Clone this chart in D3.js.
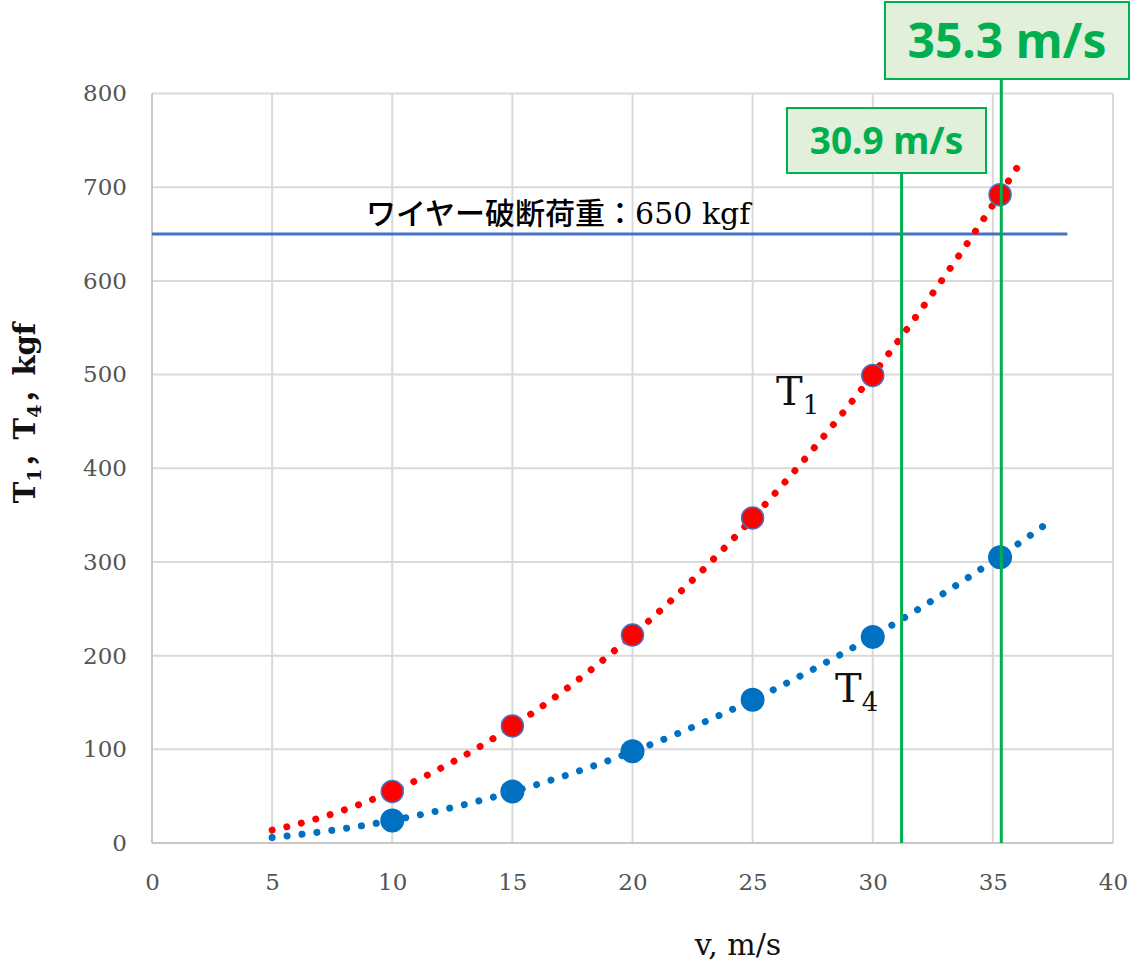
<!DOCTYPE html>
<html><head><meta charset="utf-8">
<script src="https://cdn.jsdelivr.net/npm/d3@7"></script>
<style>body{margin:0;background:#fff}</style>
</head><body>
<svg id="chart" width="1131" height="966"></svg>
<script>
// ---- data ----
const speeds = [10, 15, 20, 25, 30, 35.3];
const t1Values = [55, 125, 222, 347, 499, 692];
const t4Values = [24, 55, 98, 153, 220, 305];
const t1TrendRange = [5, 36.25];
const t4TrendRange = [5, 37.1];
const xTicks = [0, 5, 10, 15, 20, 25, 30, 35, 40];
const yTicks = [0, 100, 200, 300, 400, 500, 600, 700, 800];
const breakLoad = 650;
const breakLoadRange = [0, 38.1];
const breakLabel = "ワイヤー破断荷重：650 kgf";
const markLines = [31.2, 35.35];
const markLabels = ["30.9 m/s", "35.3 m/s"];

// ---- layout ----
const svg = d3.select("#chart");
const x = d3.scaleLinear().domain([0, 40]).range([152, 1113]);
const y = d3.scaleLinear().domain([0, 800]).range([843, 93.5]);
const serif = "'DejaVu Serif', 'Noto Sans CJK JP', serif";

// grid
svg.append("g").selectAll("line.v").data(xTicks).join("line")
  .attr("x1", d => x(d)).attr("x2", d => x(d))
  .attr("y1", y(0)).attr("y2", y(800))
  .attr("stroke", "#d9d9d9").attr("stroke-width", 2);
svg.append("g").selectAll("line.h").data(yTicks).join("line")
  .attr("x1", x(0)).attr("x2", x(40))
  .attr("y1", d => y(d)).attr("y2", d => y(d))
  .attr("stroke", "#d9d9d9").attr("stroke-width", 2);
svg.append("line").attr("x1", x(0)).attr("x2", x(40)).attr("y1", y(0)).attr("y2", y(0))
  .attr("stroke", "#c8c8c8").attr("stroke-width", 2);
svg.append("line").attr("x1", x(0)).attr("x2", x(0)).attr("y1", y(0)).attr("y2", y(800))
  .attr("stroke", "#c8c8c8").attr("stroke-width", 2);

// axes tick labels
const yAxis = d3.axisLeft(y).tickValues(yTicks).tickSize(0).tickPadding(25);
const gy = svg.append("g").attr("transform", `translate(${x(0)},0)`).call(yAxis);
gy.select(".domain").remove();
gy.selectAll("text").attr("font-family", serif).attr("font-size", 23).attr("fill", "#555");
const xAxis = d3.axisBottom(x).tickValues(xTicks).tickSize(0).tickPadding(31);
const gx = svg.append("g").attr("transform", `translate(0,${y(0)})`).call(xAxis);
gx.select(".domain").remove();
gx.selectAll("text").attr("font-family", serif).attr("font-size", 23).attr("fill", "#555");

// axis titles
const yt = svg.append("text").attr("transform", "translate(35,413) rotate(-90)")
  .attr("text-anchor", "middle").attr("font-family", serif).attr("font-weight", "bold")
  .attr("font-size", 29).attr("fill", "#111");
yt.append("tspan").text("T");
yt.append("tspan").attr("font-size", 19).attr("dy", 6).text("1");
yt.append("tspan").attr("dy", -6).text("，T");
yt.append("tspan").attr("font-size", 19).attr("dy", 6).text("4");
yt.append("tspan").attr("dy", -6).text("，kgf");
svg.append("text").attr("x", 738).attr("y", 955).attr("text-anchor", "middle")
  .attr("font-family", serif).attr("font-size", 30).attr("fill", "#111").text("v, m/s");

// break load line
svg.append("line").attr("x1", x(breakLoadRange[0])).attr("x2", x(breakLoadRange[1]))
  .attr("y1", y(breakLoad)).attr("y2", y(breakLoad))
  .attr("stroke", "#4472c4").attr("stroke-width", 3);
svg.append("text").attr("x", 366).attr("y", 224).attr("font-family", serif)
  .attr("font-size", 30).attr("font-weight", 500).attr("fill", "#000").text(breakLabel);

// power trendline fit (log-log least squares) from the data
function powerFit(xs, ys) {
  const lx = xs.map(Math.log), ly = ys.map(Math.log);
  const mx = d3.mean(lx), my = d3.mean(ly);
  const b = d3.sum(lx.map((v, i) => (v - mx) * (ly[i] - my))) / d3.sum(lx.map(v => (v - mx) ** 2));
  const a = Math.exp(my - b * mx);
  return v => a * Math.pow(v, b);
}
const line = d3.line().x(d => x(d[0])).y(d => y(d[1]));
function trend(vals, range, color) {
  const f = powerFit(speeds, vals);
  const pts = d3.range(range[0], range[1] + 0.001, 0.05).map(v => [v, f(v)]);
  svg.append("path").attr("d", line(pts)).attr("fill", "none")
    .attr("stroke", color).attr("stroke-width", 7)
    .attr("stroke-linecap", "round").attr("stroke-dasharray", "0.01 15");
}
trend(t4Values, t4TrendRange, "#0070c0");
trend(t1Values, t1TrendRange, "#ff0000");

// markers
svg.append("g").selectAll("circle").data(speeds).join("circle")
  .attr("cx", d => x(d)).attr("cy", (d, i) => y(t4Values[i])).attr("r", 12)
  .attr("fill", "#0070c0");
svg.append("g").selectAll("circle").data(speeds).join("circle")
  .attr("cx", d => x(d)).attr("cy", (d, i) => y(t1Values[i])).attr("r", 11)
  .attr("fill", "#ff0000").attr("stroke", "#4472c4").attr("stroke-width", 1.5);

// series labels
function seriesLabel(tx, ty, sub) {
  const t = svg.append("text").attr("x", tx).attr("y", ty).attr("font-family", serif)
    .attr("font-size", 40).attr("fill", "#111");
  t.append("tspan").text("T");
  t.append("tspan").attr("font-size", 26).attr("dy", 9).text(sub);
}
seriesLabel(776, 405, "1");
seriesLabel(835, 702, "4");

// green marker lines and boxes
const boxes = [
  {x0: 787, y0: 108, w: 199, h: 65, fs: 37},
  {x0: 885, y0: 2, w: 244, h: 77, fs: 48}
];
markLines.forEach((v, i) => {
  const b = boxes[i];
  svg.append("line").attr("x1", x(v)).attr("x2", x(v))
    .attr("y1", b.y0 + b.h).attr("y2", y(0))
    .attr("stroke", "#00b050").attr("stroke-width", 3);
  svg.append("rect").attr("x", b.x0).attr("y", b.y0).attr("width", b.w).attr("height", b.h)
    .attr("fill", "#e2efda").attr("stroke", "#00b050").attr("stroke-width", 2);
  svg.append("text").attr("x", b.x0 + b.w / 2).attr("y", b.y0 + b.h / 2)
    .attr("dy", "0.36em").attr("text-anchor", "middle")
    .attr("font-family", "'Noto Sans', 'Open Sans', sans-serif").attr("font-weight", "bold")
    .attr("font-size", b.fs).attr("fill", "#00b050").text(markLabels[i]);
});
</script>
</body></html>
